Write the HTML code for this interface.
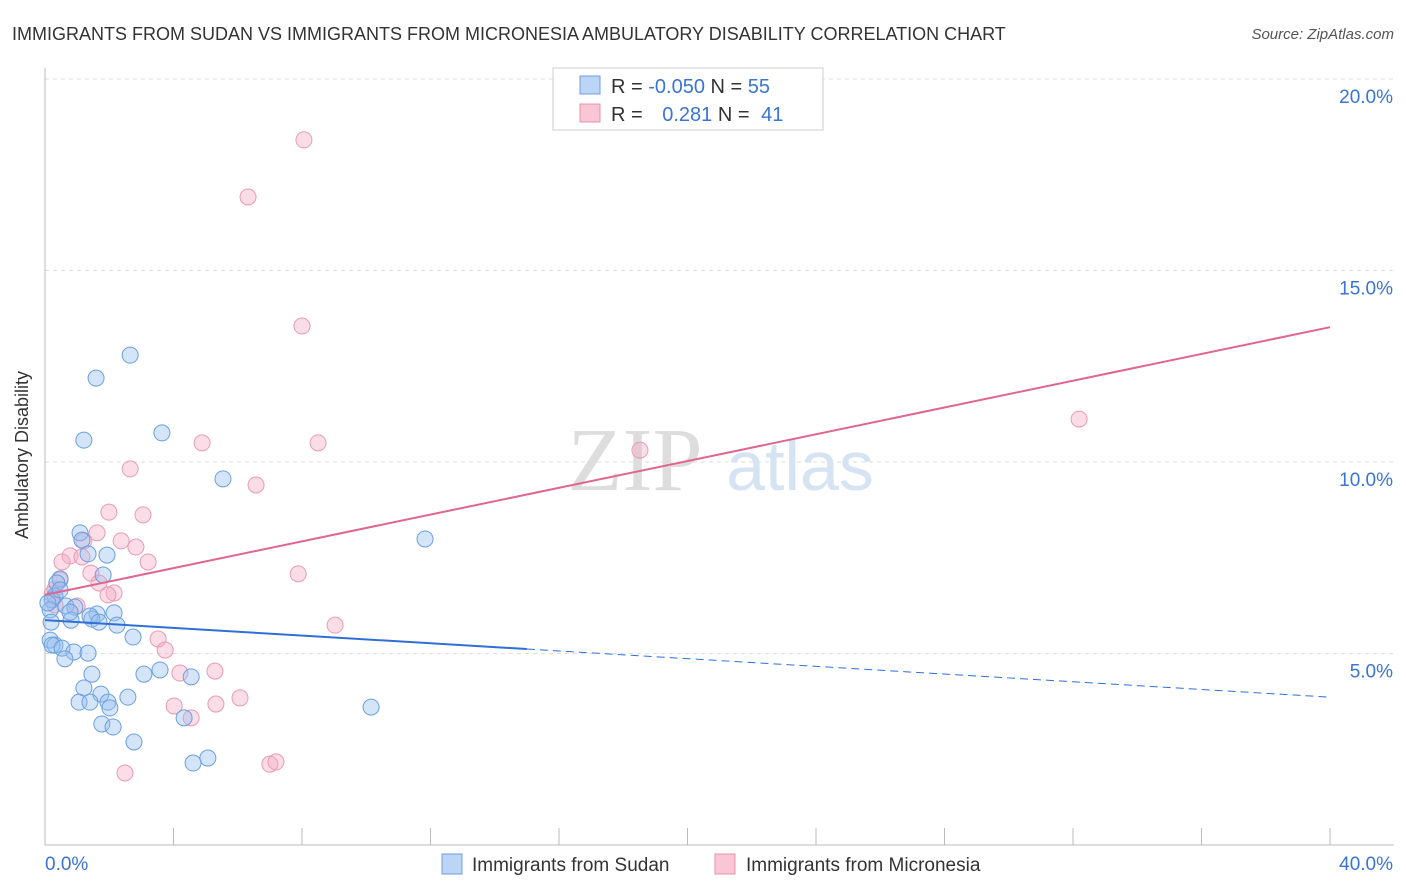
<!DOCTYPE html>
<html><head><meta charset="utf-8"><style>
body{margin:0;background:#fff;font-family:"Liberation Sans",sans-serif;}
#wrap{position:relative;width:1406px;height:892px;overflow:hidden;}
</style></head><body>
<div id="wrap">
<svg id="svg" width="1406" height="892" xmlns="http://www.w3.org/2000/svg">
<text x="12" y="40" font-size="18" fill="#333">IMMIGRANTS FROM SUDAN VS IMMIGRANTS FROM MICRONESIA AMBULATORY DISABILITY CORRELATION CHART</text>
<text x="1394" y="39" font-size="15" fill="#555" font-style="italic" text-anchor="end">Source: ZipAtlas.com</text>
<text x="28" y="455" font-size="18" fill="#333" text-anchor="middle" transform="rotate(-90 28 455)">Ambulatory Disability</text>
<g id="grid"></g>
<text x="635" y="490" font-size="90" fill="#ddd" font-family="Liberation Serif" text-anchor="middle">ZIP</text>
<text x="800" y="490" font-size="70" fill="#d6e3f3" text-anchor="middle">atlas</text>
<g id="axes"></g>
<g id="pts"></g>
<g id="lines"></g>
<g>
<rect x="553" y="68" width="270" height="62" fill="#fff" stroke="#ccc"/>
<rect x="580" y="76" width="20" height="18" fill="#bcd4f5" stroke="#6a9fe0"/>
<rect x="580" y="104" width="20" height="18" fill="#f9c6d5" stroke="#e890ab"/>
<text x="611" y="93" font-size="20" fill="#333">R = <tspan fill="#3a74d4">-0.050</tspan>   N = <tspan fill="#3a74d4">55</tspan></text>
<text x="611" y="121" font-size="20" fill="#333">R = <tspan fill="#3a74d4" dx="14">0.281</tspan>   N = <tspan fill="#3a74d4" dx="6">41</tspan></text>
</g>
<g>
<rect x="442" y="854" width="20" height="20" fill="#bcd4f5" stroke="#6a9fe0"/>
<text x="472" y="871" font-size="19" fill="#333">Immigrants from Sudan</text>
<rect x="715" y="854" width="20" height="20" fill="#f9c6d5" stroke="#e890ab"/>
<text x="746" y="871" font-size="19" fill="#333">Immigrants from Micronesia</text>
</g>
</svg>
</div>
<script>
const yTicks=[5,10,15,20];
const yTickLabels=["5.0%","10.0%","15.0%","20.0%"];
const xTickVals=[0,4,8,12,16,20,24,28,32,36,40];
const sudanX=[2.65,1.59,1.21,3.64,5.54,11.83,1.09,1.15,1.34,1.93,1.81,0.47,0.37,0.31,0.22,0.65,0.93,0.16,1.62,2.15,1.46,0.81,1.40,2.24,0.19,1.68,2.74,0.16,0.31,0.22,0.53,0.90,1.34,0.62,1.46,3.08,3.58,4.55,1.21,1.74,1.06,1.40,1.96,2.02,2.58,1.77,2.12,4.33,2.77,4.61,5.07,10.15,0.09,0.47,0.78];
const sudanY=[12.79,12.19,10.57,10.76,9.56,7.99,8.15,7.96,7.60,7.57,7.05,6.95,6.84,6.50,6.40,6.24,6.21,6.14,6.03,6.06,5.90,5.87,5.98,5.74,5.82,5.82,5.43,5.35,5.22,5.22,5.14,5.04,5.01,4.86,4.46,4.46,4.57,4.39,4.10,3.94,3.73,3.73,3.73,3.58,3.86,3.16,3.08,3.32,2.69,2.14,2.27,3.60,6.32,6.66,6.08];
const micX=[8.06,6.32,8.00,32.19,18.52,4.89,8.50,2.65,6.57,1.99,3.05,1.62,1.21,2.37,2.83,0.78,3.21,0.53,1.15,1.43,7.88,1.68,0.31,0.22,2.15,1.96,1.00,9.03,3.52,3.74,4.20,5.29,6.07,4.02,5.32,4.55,2.49,7.00,7.19,0.31,0.47];
const micY=[18.41,16.92,13.55,11.12,10.31,10.50,10.50,9.82,9.40,8.69,8.62,8.15,7.94,7.94,7.78,7.55,7.39,7.39,7.52,7.10,7.08,6.84,6.68,6.55,6.58,6.53,6.24,5.74,5.38,5.09,4.49,4.54,3.84,3.63,3.68,3.32,1.88,2.11,2.17,6.27,6.92];
const sudanTrend=[5.87,3.86]; const sudanSolidEnd=15.0;
const micTrend=[6.53,13.52];

const NS="http://www.w3.org/2000/svg";
const X=v=>45+v/40*1285, Y=v=>845-v*38.3;
function mk(tag,attrs,parent){const e=document.createElementNS(NS,tag);for(const k in attrs)e.setAttribute(k,attrs[k]);document.getElementById(parent).appendChild(e);return e;}
yTicks.forEach((t,i)=>{
 const l=mk('line',{x1:45,x2:1394,y1:Y(t),y2:Y(t),stroke:'#ddd','stroke-dasharray':'4,4'},'grid');
 
 
 const tx=mk('text',{x:1393,y:Y(t)+24,'font-size':19,fill:'#3a74d4','text-anchor':'end'},'grid');
 tx.textContent=yTickLabels[i];
 
 
});
mk('line',{x1:45,x2:1394,y1:79,y2:79,stroke:'#ddd','stroke-dasharray':'4,4'},'grid');
const ax=mk('line',{x1:45,x2:1394,y1:845,y2:845,stroke:'#bbb'},'axes');


const ay=mk('line',{x1:45,x2:45,y1:68,y2:845,stroke:'#bbb'},'axes');


xTickVals.forEach(t=>{const l=mk('line',{x1:X(t),x2:X(t),y1:828,y2:845,stroke:'#bbb'},'axes');
 
 });
const x0=mk('text',{x:45,y:870,'font-size':19,fill:'#3a74d4'},'axes');x0.textContent='0.0%';


const x1=mk('text',{x:1393,y:870,'font-size':19,fill:'#3a74d4','text-anchor':'end'},'axes');x1.textContent='40.0%';


micX.forEach((v,i)=>{const c=mk('circle',{cx:X(v),cy:Y(micY[i]),r:8,fill:'rgba(245,170,195,0.4)',stroke:'#e99ab4','stroke-width':1},'pts');
 
 });
sudanX.forEach((v,i)=>{const c=mk('circle',{cx:X(v),cy:Y(sudanY[i]),r:8,fill:'rgba(150,190,240,0.4)',stroke:'#6a9fe0','stroke-width':1},'pts');
 
 });
const sY=v=>sudanTrend[0]+(sudanTrend[1]-sudanTrend[0])*v/40;
const b1=mk('line',{x1:X(0),y1:Y(sY(0)),x2:X(sudanSolidEnd),y2:Y(sY(sudanSolidEnd)),stroke:'#2f6fd6','stroke-width':2},'lines');


const b2=mk('line',{x1:X(sudanSolidEnd),y1:Y(sY(sudanSolidEnd)),x2:X(40),y2:Y(sY(40)),stroke:'#2f6fd6','stroke-width':1,'stroke-dasharray':'8,5'},'lines');


const p1=mk('line',{x1:X(0),y1:Y(micTrend[0]),x2:X(40),y2:Y(micTrend[1]),stroke:'#e06690','stroke-width':2},'lines');


</script>
</body></html>
